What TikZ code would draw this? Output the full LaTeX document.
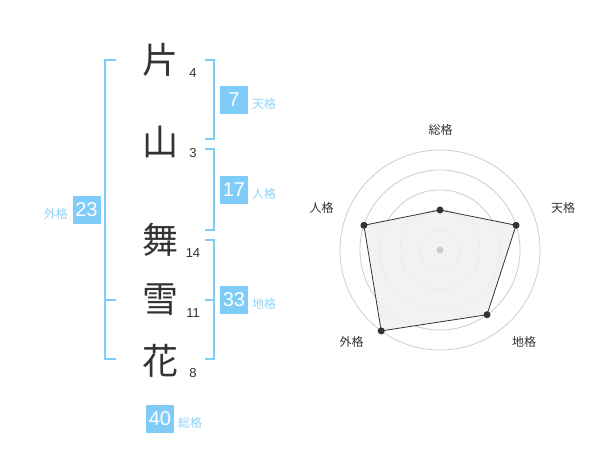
\documentclass[tikz,border=0pt]{standalone}
\usepackage{fontspec}
\setmainfont{Liberation Sans}
\newfontfamily\jp{Noto Sans CJK JP}
\definecolor{bl}{HTML}{80CCF8}
\definecolor{bllab}{HTML}{8FD3F8}
\definecolor{ink}{HTML}{333333}
\definecolor{ring}{HTML}{CCCCCC}
\definecolor{area}{HTML}{F0F0F0}
\tikzset{
  kanji/.style={font=\jp\fontsize{36}{36}\selectfont, text=ink, inner sep=0pt},
  strokes/.style={font=\fontsize{13}{13}\selectfont, text=ink, inner sep=0pt},
  numbox/.style={fill=bl, text=white, minimum width=28pt, minimum height=28pt, inner sep=0pt, font=\fontsize{20}{20}\selectfont},
  kaku/.style={font=\jp\fontsize{12}{12}\selectfont, text=bllab, inner sep=0pt, anchor=west},
  brk/.style={draw=bl, line width=2pt},
  radlab/.style={font=\jp\fontsize{12}{12}\selectfont, text=ink, inner sep=0pt},
  ringline/.style={draw=ring, line width=0.8pt},
  pt/.style={circle, fill=ink, inner sep=0pt, minimum size=7pt},
}
\begin{document}
\begin{tikzpicture}[x=1pt,y=-1pt]
\useasboundingbox (0,0) rectangle (600,470);
% name characters
\node[kanji] (k1) at (160,60) {片};
\node[kanji] (k2) at (160,142) {山};
\node[kanji] (k3) at (160,240) {舞};
\node[kanji] (k4) at (160,300) {雪};
\node[kanji] (k5) at (160,361) {花};
\node[strokes] (n1) at (193,73) {4};
\node[strokes] (n2) at (193,153) {3};
\node[strokes] (n3) at (193,253) {14};
\node[strokes] (n4) at (193,313) {11};
\node[strokes] (n5) at (193,373) {8};
% brackets
\draw[brk] (205,60) -- (214,60) -- (214,139.5) -- (205,139.5);
\draw[brk] (205,149.5) -- (214,149.5) -- (214,230) -- (205,230);
\draw[brk] (205,240) -- (214,240) -- (214,359.5) -- (205,359.5);
\draw[brk] (205,300) -- (214,300);
\draw[brk] (116,60) -- (105,60) -- (105,359.5) -- (116,359.5);
\draw[brk] (105,300) -- (116,300);
% boxes
\node[numbox] (b1) at (234,100) {7};
\node[kaku] (l1) at (252,104) {天格};
\node[numbox] (b2) at (234,190) {17};
\node[kaku] (l2) at (252,194) {人格};
\node[numbox] (b3) at (234,300) {33};
\node[kaku] (l3) at (252,304) {地格};
\node[numbox] (b4) at (86.5,210) {23};
\node[kaku, anchor=east] (l4) at (68,214) {外格};
\node[numbox] (b5) at (160,419) {40};
\node[kaku] (l5) at (178,423) {総格};
% radar
\coordinate (c) at (440,250);
\begin{scope}[shift={(c)}, y=1pt]
  \foreach \r in {20,40,60,80,100} \draw[ringline] (0,0) circle (\r);
  \coordinate (p1) at (90:40);
  \coordinate (p2) at (18:80);
  \coordinate (p3) at (-54:80);
  \coordinate (p4) at (-126:100);
  \coordinate (p5) at (162:80);
  \draw[fill=area, fill opacity=0.85, draw=ink, line width=0.8pt] (p1) -- (p2) -- (p3) -- (p4) -- (p5) -- cycle;
  \foreach \p in {p1,p2,p3,p4,p5} \node[pt] at (\p) {};
  \node[circle, fill=ring, inner sep=0pt, minimum size=7pt] (ctr) at (0,0) {};
  \node[radlab] (r1) at (0.7,120) {総格};
  \node[radlab] (r2) at (123,42) {天格};
  \node[radlab] (r3) at (84,-91.7) {地格};
  \node[radlab] (r4) at (-88.3,-91.7) {外格};
  \node[radlab] (r5) at (-118.3,42) {人格};
\end{scope}
\end{tikzpicture}
\end{document}
